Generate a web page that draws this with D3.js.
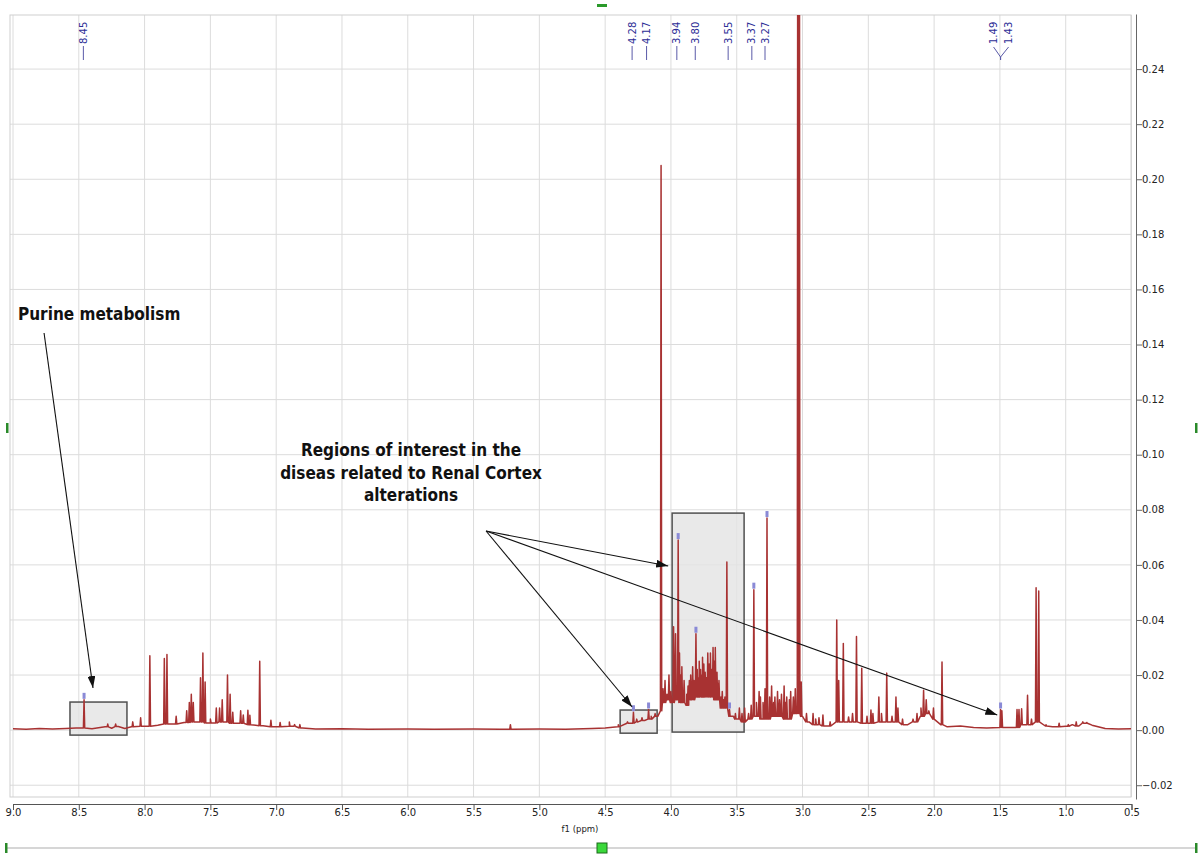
<!DOCTYPE html>
<html>
<head>
<meta charset="utf-8">
<script src="https://cdn.jsdelivr.net/npm/d3@7"></script>
<style>
  body { margin: 0; background: #fff; }
  svg { display: block; }
</style>
</head>
<body>
<div class="nmrChart"></div>
<script>
// ---- data (ppm, intensity) ----
const baseline = [
  [9.0,0.0005],[8.9,0.0003],[8.8,0.0006],[8.7,0.0004],[8.6,0.0006],[8.52,0.0008],[8.4,0.0005],
  [8.3,0.0012],[8.25,0.0007],[8.2,0.0013],[8.15,0.0006],[8.1,0.0012],[8.0,0.0014],[7.9,0.0018],
  [7.8,0.0022],[7.7,0.0028],[7.6,0.003],[7.5,0.0026],[7.4,0.003],[7.3,0.0025],[7.2,0.002],
  [7.1,0.0016],[7.0,0.0012],[6.9,0.0014],[6.8,0.0008],[6.7,0.0004],[6.5,0.0005],[6.3,0.0003],
  [6.0,0.0004],[5.8,0.0003],[5.5,0.0004],[5.3,0.0003],[5.2,0.0003],[5.0,0.0004],[4.8,0.0003],
  [4.6,0.0006],[4.5,0.0008],[4.4,0.0012],[4.3,0.0025],[4.25,0.003],[4.2,0.0035],[4.15,0.004],
  [4.1,0.005],[4.08,0.007],[4.05,0.01],[4.02,0.011],[4.0,0.01],[3.96,0.011],[3.92,0.01],
  [3.88,0.009],[3.85,0.011],[3.8,0.012],[3.75,0.012],[3.7,0.012],[3.65,0.011],[3.6,0.008],
  [3.55,0.005],[3.5,0.004],[3.45,0.003],[3.4,0.004],[3.35,0.005],[3.3,0.004],[3.2,0.005],
  [3.1,0.004],[3.05,0.006],[3.0,0.005],[2.95,0.003],[2.9,0.002],[2.8,0.0015],[2.7,0.003],
  [2.6,0.003],[2.5,0.0025],[2.4,0.003],[2.3,0.003],[2.2,0.002],[2.15,0.003],[2.1,0.005],
  [2.05,0.006],[2.0,0.004],[1.95,0.002],[1.9,0.0012],[1.8,0.0015],[1.7,0.001],[1.6,0.0008],
  [1.5,0.001],[1.4,0.001],[1.3,0.002],[1.2,0.003],[1.15,0.0015],[1.1,0.0012],[1.0,0.0014],
  [0.95,0.002],[0.9,0.0015],[0.85,0.0025],[0.8,0.0018],[0.7,0.0006],[0.6,0.0004],[0.5,0.0005]
];

const peaks = [
  // aromatic region
  [8.46,0.011],[8.28,0.0022],[8.22,0.0022],[8.09,0.003],[8.03,0.0045],[7.96,0.027],[7.85,0.026],
  [7.83,0.0275],[7.76,0.005],[7.68,0.007],[7.66,0.010],[7.645,0.013],[7.63,0.010],[7.575,0.019],
  [7.557,0.028],[7.54,0.0175],[7.50,0.004],[7.455,0.008],[7.43,0.008],[7.41,0.011],[7.37,0.020],
  [7.35,0.013],[7.33,0.0065],[7.27,0.007],[7.25,0.0055],[7.215,0.0072],[7.20,0.0054],[7.125,0.025],
  [7.04,0.0036],[6.97,0.0028],[6.90,0.003],[6.86,0.002],[6.82,0.002],[5.22,0.002],
  // 4.5 - 4.0
  [4.40,0.002],[4.33,0.003],[4.285,0.0065],[4.26,0.004],[4.22,0.0045],[4.17,0.0075],[4.15,0.005],
  [4.12,0.006],[4.075,0.205],[4.06,0.015],[4.045,0.018],[4.03,0.013],[4.015,0.02],[4.0,0.014],
  // boxed region
  [3.98,0.0375],[3.965,0.035],[3.945,0.069],[3.935,0.028],[3.925,0.02],[3.917,0.023],[3.90,0.018],
  [3.88,0.013],[3.87,0.016],[3.86,0.018],[3.85,0.02],[3.835,0.023],[3.825,0.018],[3.81,0.035],
  [3.80,0.022],[3.79,0.019],[3.785,0.025],[3.775,0.022],[3.765,0.02],[3.76,0.0265],[3.75,0.024],
  [3.74,0.021],[3.73,0.019],[3.72,0.028],[3.71,0.024],[3.70,0.028],[3.69,0.022],[3.68,0.030],
  [3.67,0.025],[3.663,0.030],[3.65,0.021],[3.64,0.017],[3.635,0.018],[3.62,0.012],[3.61,0.014],
  [3.60,0.011],[3.59,0.012],[3.575,0.061],[3.555,0.0075],[3.53,0.005],[3.51,0.006],[3.48,0.008],
  [3.46,0.006],[3.44,0.008],
  // 3.4 - 3.0
  [3.41,0.006],[3.39,0.009],[3.37,0.051],[3.35,0.01],[3.33,0.014],[3.32,0.012],[3.30,0.01],
  [3.285,0.015],[3.27,0.077],[3.25,0.012],[3.235,0.016],[3.22,0.01],[3.21,0.012],[3.19,0.014],
  [3.175,0.011],[3.16,0.013],[3.14,0.016],[3.13,0.01],[3.12,0.012],[3.10,0.011],[3.09,0.014],
  [3.07,0.012],[3.055,0.015],[3.035,0.45],[3.025,0.45],[3.01,0.0175],[2.97,0.006],
  // 2.95 - 1.9
  [2.92,0.006],[2.90,0.004],[2.875,0.0045],[2.845,0.0055],[2.79,0.003],[2.74,0.040],[2.725,0.018],
  [2.69,0.0315],[2.65,0.0048],[2.62,0.006],[2.59,0.034],[2.55,0.0225],[2.51,0.005],[2.48,0.0073],
  [2.465,0.006],[2.42,0.012],[2.40,0.006],[2.36,0.0207],[2.32,0.005],[2.29,0.012],[2.275,0.008],
  [2.24,0.004],[2.16,0.004],[2.13,0.006],[2.10,0.008],[2.08,0.0145],[2.06,0.011],[2.04,0.007],
  [2.005,0.008],[1.94,0.0247],
  // aliphatic
  [1.495,0.0075],[1.485,0.007],[1.37,0.0075],[1.355,0.0075],[1.335,0.0078],[1.29,0.0127],
  [1.26,0.004],[1.225,0.0517],[1.205,0.0505],[1.15,0.002],[1.05,0.0025],[0.98,0.002],
  [0.92,0.003],[0.87,0.003],[0.84,0.0028]
];

// picked peaks shown at the top, and the little blue marks on the peaks
const pickLabels = ["8.45","4.28","4.17","3.94","3.80","3.55","3.37","3.27","1.49","1.43"];
const pickMarks = [[8.46,0.011],[4.285,0.0065],[4.17,0.0075],[3.945,0.069],[3.81,0.035],
  [3.555,0.0075],[3.37,0.051],[3.27,0.077],[1.495,0.0075]];

const xTicks = d3.range(18).map(i => 9 - i * 0.5);
const yTicks = d3.range(14).map(i => -0.02 + i * 0.02);

// annotation boxes [ppmLeft, ppmRight, top, bottom]
const regionBoxes = [[8.567,8.134,0.0102,-0.0018],[4.386,4.105,0.0073,-0.0011],[3.991,3.444,0.0788,-0.0007]];
const regionTips = [[4.021,0.0596],[4.295,0.0084],[1.52,0.0055]];

// ---- drawing ----
const W = 1199, H = 854;
const svg = d3.select(".nmrChart").append("svg").attr("width", W).attr("height", H);

const plot = {left: 10, top: 15, right: 1131, bottom: 797};
const x = d3.scaleLinear().domain([9, 0.5]).range([13, 1131.5]);
const y = d3.scaleLinear().domain([-0.025, 0.26]).range([799, 14]);

svg.append("defs").append("clipPath").attr("id", "plotClip")
  .append("rect").attr("x", plot.left).attr("y", plot.top)
  .attr("width", plot.right - plot.left).attr("height", plot.bottom - plot.top);

const marker = svg.select("defs").append("marker")
  .attr("id", "arrow").attr("viewBox", "0 0 12 8").attr("refX", 12).attr("refY", 4)
  .attr("markerWidth", 12).attr("markerHeight", 8).attr("markerUnits", "userSpaceOnUse")
  .attr("orient", "auto");
marker.append("path").attr("d", "M0,0 L12,4 L0,8 Z").attr("fill", "#111");

// grid
svg.append("g").selectAll("line").data(xTicks).join("line")
  .attr("x1", d => x(d)).attr("x2", d => x(d))
  .attr("y1", plot.top).attr("y2", plot.bottom)
  .attr("stroke", "#dcdcdc").attr("stroke-width", 1);
svg.append("g").selectAll("line").data(yTicks).join("line")
  .attr("x1", plot.left).attr("x2", plot.right)
  .attr("y1", d => y(d)).attr("y2", d => y(d))
  .attr("stroke", "#dcdcdc").attr("stroke-width", 1);
svg.append("rect").attr("x", plot.left).attr("y", plot.top)
  .attr("width", plot.right - plot.left).attr("height", plot.bottom - plot.top)
  .attr("fill", "none").attr("stroke", "#cfcfcf");

// grey region boxes (behind the spectrum)
svg.append("g").selectAll("rect").data(regionBoxes).join("rect")
  .attr("x", d => x(d[0])).attr("y", d => y(d[2]))
  .attr("width", d => x(d[1]) - x(d[0])).attr("height", d => y(d[3]) - y(d[2]))
  .attr("fill", "#e4e4e4").attr("fill-opacity", 0.8)
  .attr("stroke", "#505050").attr("stroke-width", 1.5);

// spectrum line: baseline points plus narrow spikes for every peak
function baseAt(p){
  let best = baseline[0];
  for(let b of baseline){
    if(Math.abs(b[0] - p) < Math.abs(best[0] - p)) best = b;
  }
  return best[1];
}
const halfWidth = 0.005;
let verts = baseline.slice();
for(let [p, h] of peaks){
  let b = baseAt(p);
  verts.push([p + halfWidth, b], [p, h], [p - halfWidth, b]);
}
verts.sort((a, b) => b[0] - a[0]);

svg.append("path")
  .datum(verts)
  .attr("clip-path", "url(#plotClip)")
  .attr("fill", "none")
  .attr("stroke", "#a83232")
  .attr("stroke-width", 1.5)
  .attr("stroke-linejoin", "round")
  .attr("d", d3.line().x(d => x(d[0])).y(d => y(d[1])));

// blue pick marks on peaks
svg.append("g").selectAll("rect").data(pickMarks).join("rect")
  .attr("x", d => x(d[0]) - 1.5).attr("y", d => y(d[1]) - 7)
  .attr("width", 3).attr("height", 6)
  .attr("fill", "#8a8ad6");

// peak labels at top
const labelG = svg.append("g").attr("font-family", "DejaVu Sans, sans-serif")
  .attr("font-size", "10px").attr("fill", "#2d2d96");
const spread = {"1.49": -7, "1.43": 8};
pickLabels.forEach(lbl => {
  let p = +lbl;
  let px = x(p) - 2;
  if(lbl in spread){
    let joinX = x(1.495);
    px = joinX + spread[lbl];
    labelG.append("line").attr("x1", px).attr("y1", 47).attr("x2", joinX).attr("y2", 57)
      .attr("stroke", "#5a5aa8").attr("stroke-width", 1);
    labelG.append("line").attr("x1", joinX).attr("y1", 57).attr("x2", joinX).attr("y2", 60)
      .attr("stroke", "#5a5aa8").attr("stroke-width", 1);
  } else {
    labelG.append("line").attr("x1", px).attr("y1", 46).attr("x2", px).attr("y2", 60)
      .attr("stroke", "#5a5aa8").attr("stroke-width", 1);
  }
  labelG.append("text")
    .attr("transform", `translate(${px + 3.5},44) rotate(-90)`)
    .text(lbl);
});

// x axis
const xAxisG = svg.append("g").attr("transform", "translate(0,804)");
xAxisG.call(d3.axisBottom(x).tickValues(d3.range(35).map(i => 9 - i * 0.25)).tickSize(3).tickFormat(""));
xAxisG.call(d3.axisBottom(x).tickValues(xTicks).tickSize(6).tickSizeOuter(6).tickFormat(d3.format(".1f")));
xAxisG.selectAll("path, line").attr("stroke", "#555");
xAxisG.selectAll("text").attr("font-family", "DejaVu Sans, sans-serif").attr("font-size", "10px")
  .attr("fill", "#222").attr("dy", "0.3em");
svg.append("text").attr("x", 580).attr("y", 832).attr("text-anchor", "middle")
  .attr("font-family", "DejaVu Sans, sans-serif").attr("font-size", "8.5px").attr("fill", "#222")
  .text("f1 (ppm)");

// y axis on the right
const yAxisG = svg.append("g").attr("transform", "translate(1136,0)");
yAxisG.call(d3.axisRight(y).tickValues(d3.range(29).map(i => -0.025 + 0.005 + i * 0.01).filter(v => v < 0.26)).tickSize(3).tickFormat(""));
yAxisG.call(d3.axisRight(y).tickValues(yTicks).tickSize(6).tickSizeOuter(0).tickFormat(d3.format(".2f")));
yAxisG.selectAll("path, line").attr("stroke", "#666");
yAxisG.selectAll("text").attr("font-family", "DejaVu Sans, sans-serif").attr("font-size", "10px")
  .attr("fill", "#222").attr("x", 6);

// annotations
const annoFont = "DejaVu Sans Condensed, DejaVu Sans, sans-serif";
svg.append("text").attr("x", x(8.962)).attr("y", 320)
  .attr("font-family", annoFont).attr("font-stretch", "condensed").attr("font-weight", "bold")
  .attr("font-size", "17px").attr("fill", "#111").text("Purine metabolism");
svg.append("line").attr("x1", x(8.764)).attr("y1", y(0.1442)).attr("x2", x(8.392)).attr("y2", y(0.0153))
  .attr("stroke", "#111").attr("stroke-width", 1.1).attr("marker-end", "url(#arrow)");

const regionText = ["Regions of interest in the", "diseas related to Renal Cortex", "alterations"];
svg.append("g").selectAll("text").data(regionText).join("text")
  .attr("x", x(5.975)).attr("y", (d, i) => 456 + i * 22.5)
  .attr("text-anchor", "middle")
  .attr("font-family", annoFont).attr("font-stretch", "condensed").attr("font-weight", "bold")
  .attr("font-size", "17px").attr("fill", "#111").text(d => d);

svg.append("g").selectAll("line").data(regionTips).join("line")
  .attr("x1", x(5.405)).attr("y1", y(0.0723))
  .attr("x2", d => x(d[0])).attr("y2", d => y(d[1]))
  .attr("stroke", "#111").attr("stroke-width", 1.1).attr("marker-end", "url(#arrow)");

// window chrome: scroll line and green handles
svg.append("line").attr("x1", 5).attr("x2", 1197).attr("y1", 848).attr("y2", 848)
  .attr("stroke", "#c8c8c8").attr("stroke-width", 1.5);
svg.append("rect").attr("x", 597).attr("y", 843).attr("width", 10).attr("height", 10)
  .attr("fill", "#3ad83a").attr("stroke", "#1a6a1a");
[[5, 843], [1195, 843], [6, 423], [1195, 423]].forEach(([gx, gy]) => {
  svg.append("rect").attr("x", gx).attr("y", gy).attr("width", 2.5).attr("height", 10).attr("fill", "#2a8a2a");
});
svg.append("rect").attr("x", 597).attr("y", 4).attr("width", 10).attr("height", 3).attr("fill", "#2a9a2a");
</script>
</body>
</html>
